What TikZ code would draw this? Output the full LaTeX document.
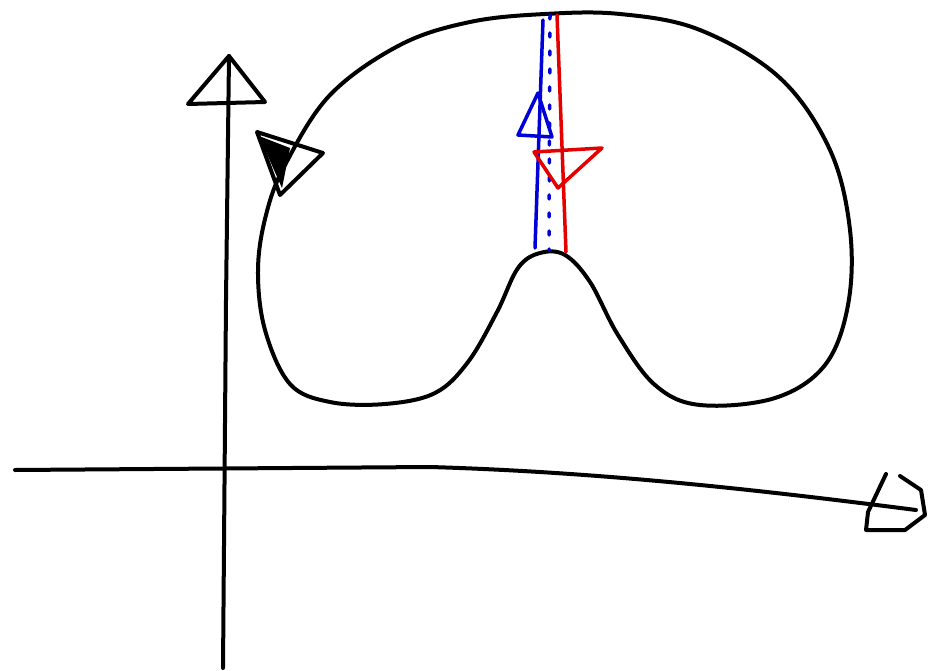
\documentclass[tikz,border=0pt]{standalone}
\usepackage{tikz}
\usetikzlibrary{positioning}

\tikzset{
  pen/.style={line width=4pt, line join=round, line cap=round},
  bluepen/.style={pen, draw=blue!85!black, line width=3.5pt},
  redpen/.style={pen, draw=red!90!black, line width=3.5pt}
}

\begin{document}
\begin{tikzpicture}[x=1pt, y=-1pt]
            \useasboundingbox (0,0) rectangle (933,671);

            % Axes
            \coordinate (yfoot) at (223,668);
            \coordinate (ytip) at (229,56);
            \coordinate (xfoot) at (15,470);
            \coordinate (xtip) at (916,510);
            \draw[pen] (yfoot) -- (226,300) -- (ytip);
            \draw[pen] (ytip) -- (188,104) -- (265,102) -- cycle;
            \draw[pen] (xfoot) -- (430,467) .. controls (600,472) and (760,490) .. (xtip);
            \draw[pen] (886,474) -- (868,512) -- (866,530) -- (905,530) -- (925,515) -- (921,490) -- (900,476);

            % Closed curve
            \draw[pen] plot[smooth cycle, tension=0.6] coordinates {
              (330,95) (400,45) (470,22) (545,14) (620,14) (700,30) (780,78)
              (830,150) (850,230) (848,305) (825,365) (775,398) (700,405)
              (655,385) (618,335) (590,282) (565,255) (540,253) (518,268)
              (497,312) (468,362) (435,393) (385,404) (330,402) (290,384)
              (265,330) (258,270) (266,215) (285,165)};
            \draw[pen] (257,132) -- (323,153) -- (280,195) -- cycle;
            \fill (259,136) -- (290,148) -- (282,188) -- cycle;

            % Blue pair with arrowhead up
            \draw[bluepen] (543,20) -- (535,248);
            \draw[bluepen, dash pattern=on 4pt off 14pt] (550,15) -- (549,250);
            \draw[bluepen] (538,93) -- (518,135) -- (552,137) -- cycle;

            % Red line with arrowhead down
            \draw[redpen] (557,15) -- (566,252);
            \draw[redpen] (534,152) -- (602,148) -- (558,188) -- cycle;
        \end{tikzpicture}
\end{document}
